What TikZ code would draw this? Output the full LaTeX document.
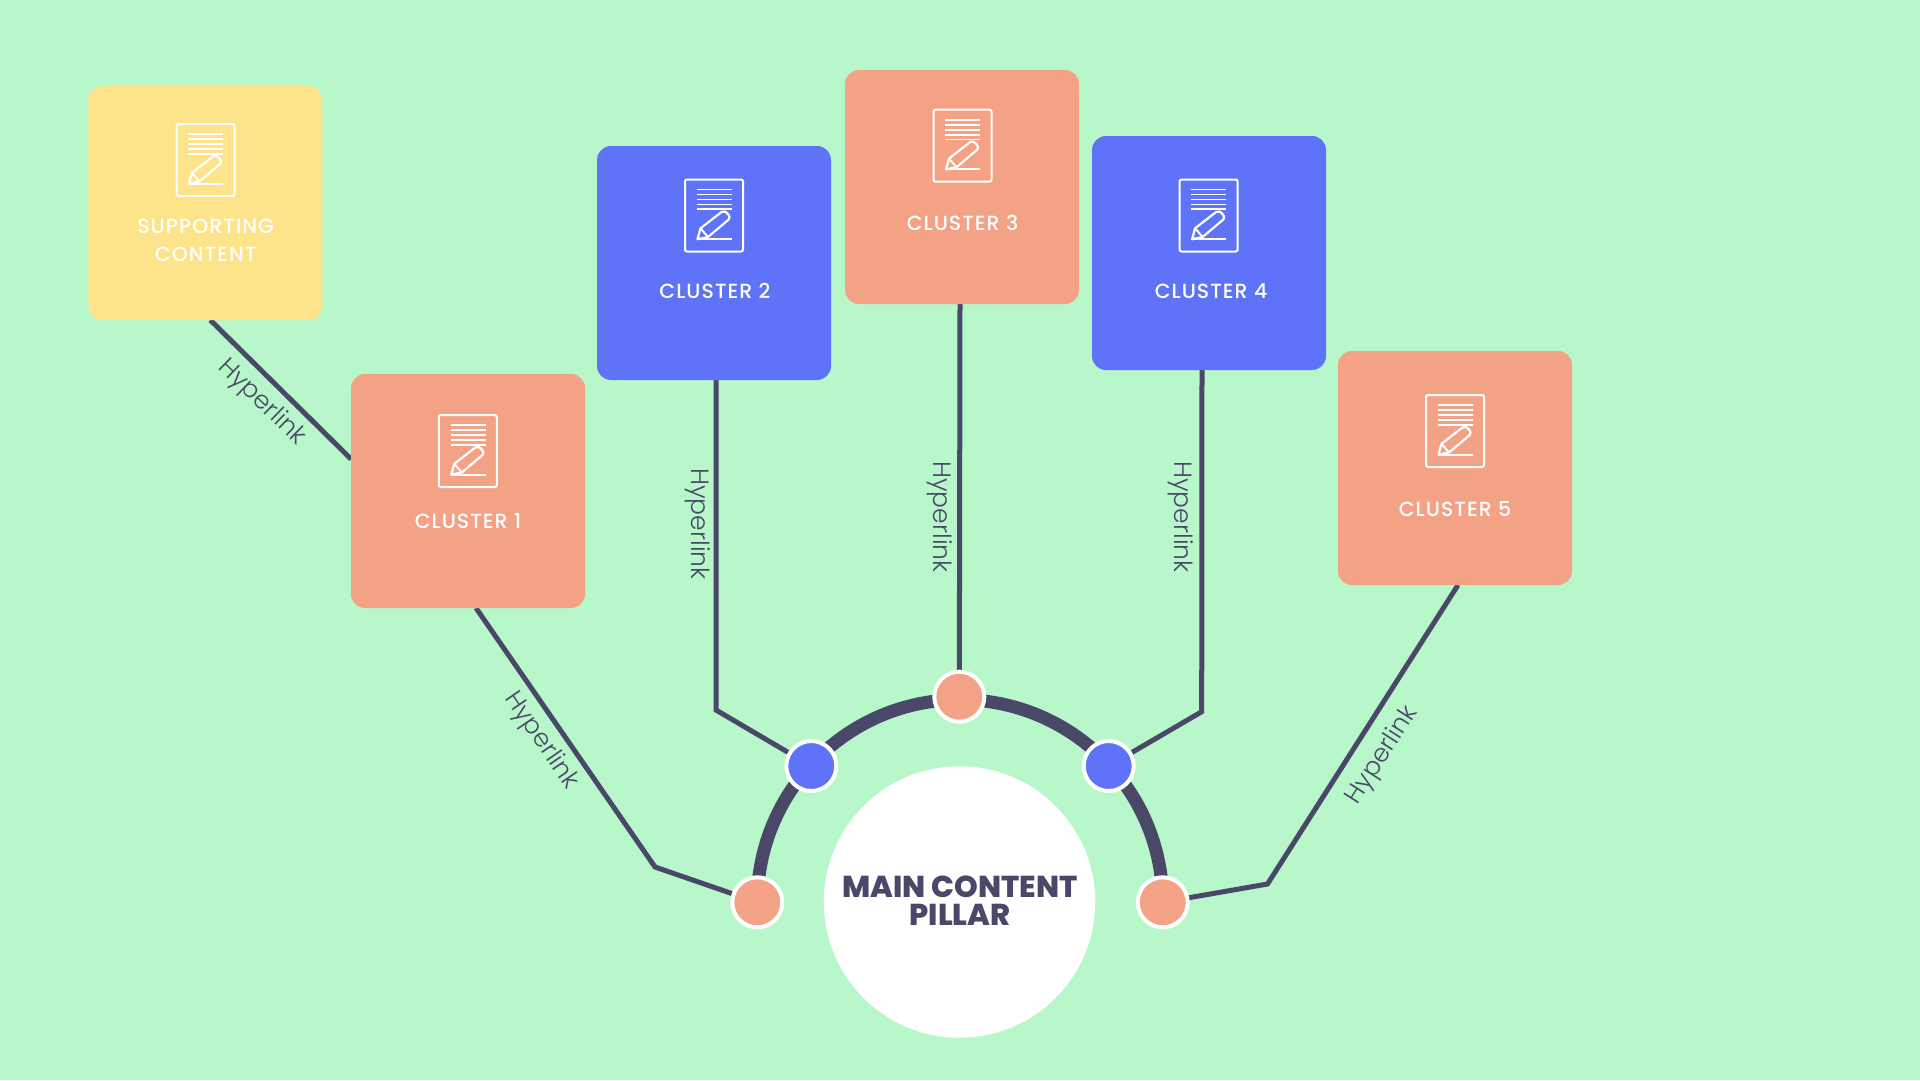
\documentclass[tikz,border=0pt]{standalone}
\usepackage{fontspec}
\setmainfont{Poppins}
\newfontfamily\lightface{Poppins Light}
\newfontfamily\medface[LetterSpace=5]{Poppins Medium}
\newfontfamily\heavyface{Poppins ExtraBold}
\usetikzlibrary{backgrounds,calc}
\definecolor{bgc}{RGB}{184,247,202}
\definecolor{ylw}{RGB}{253,228,139}
\definecolor{sal}{RGB}{243,162,134}
\definecolor{blu}{RGB}{95,115,248}
\definecolor{ink}{RGB}{74,72,104}
\tikzset{
  x=1pt,y=-1pt,
  card/.style={minimum width=234pt,minimum height=234pt,rounded corners=14pt,inner sep=0pt,outer sep=0pt},
  cardtext/.style={text=white,font=\medface\fontsize{20.5}{28}\selectfont,align=center,inner sep=0pt},
  link/.style={draw=ink,line width=5pt,line join=miter},
  hub/.style={circle,draw=white,line width=4pt,minimum size=50pt,inner sep=0pt,outer sep=0pt},
  linklabel/.style={text=ink,font=\lightface\fontsize{25}{25}\selectfont,inner sep=0pt},
  pics/docicon/.style={code={
    \draw[white,line width=2pt,rounded corners=2pt] (-29,-36) rectangle (29,36);
    \foreach \yy in {-26,-21,-16,-11,-6.3}{\draw[white,line width=1.7pt] (-17.3,\yy) -- (17.7,\yy);}
    \draw[white,line width=2pt] (-17,23.7) -- (17.7,23.7);
    \draw[white,line width=2.2pt,line join=round] (-16.5,23.7) -- (-13.5,12.8) -- (7.5,-3.5) .. controls (10,-5.5) and (12,-3.5) .. (14,-1.5) .. controls (16,0.5) and (16,2.5) .. (14.7,4) -- (-6,21.5) -- cycle;
    \draw[white,line width=2pt] (-13.5,12.8) -- (-6,21.5);
  }}
}
\begin{document}
\begin{tikzpicture}
\useasboundingbox (0,0) rectangle (1920,1080);
% cards
\node[card,fill=ylw] (sup) at (205.25,203) {};
\node[card,fill=sal] (c1) at (468,491) {};
\node[card,fill=blu] (c2) at (714,263) {};
\node[card,fill=sal] (c3) at (962,187) {};
\node[card,fill=blu] (c4) at (1209,253) {};
\node[card,fill=sal] (c5) at (1455,468) {};
% icons
\pic at (205.5,160) {docicon};
\pic at (467.8,451) {docicon};
\pic at (714,215.5) {docicon};
\pic at (962.5,145.7) {docicon};
\pic at (1208.6,215.5) {docicon};
\pic at (1455,431) {docicon};
% card texts
\node[cardtext] (tsup) at (205.7,240.8) {SUPPORTING\\CONTENT};
\node[cardtext] (t1) at (468,521.2) {CLUSTER 1};
\node[cardtext] (t2) at (715,291.2) {CLUSTER 2};
\node[cardtext] (t3) at (962.5,222.5) {CLUSTER 3};
\node[cardtext] (t4) at (1211,291.2) {CLUSTER 4};
\node[cardtext] (t5) at (1455,509.2) {CLUSTER 5};
% main
\node[circle,fill=white,minimum size=271.5pt,inner sep=0pt,outer sep=0pt] (main) at (959.5,902) {};
\node[text=ink,font=\heavyface\fontsize{30.2}{28}\selectfont,align=center,inner sep=0pt] (maint) at (960,901) {MAIN CONTENT\\PILLAR};
% hubs
\node[hub,fill=sal] (h1) at (757.3,902.3) {};
\node[hub,fill=blu] (h2) at (811.3,766) {};
\node[hub,fill=sal] (h3) at (959.3,696.7) {};
\node[hub,fill=blu] (h4) at (1108.7,766) {};
\node[hub,fill=sal] (h5) at (1162.7,902.3) {};
% corners
\coordinate (k1) at (655,867);
\coordinate (k2) at (716,710);
\coordinate (k4) at (1201.7,711.7);
\coordinate (k5) at (1267.5,884);
\begin{scope}[on background layer]
\fill[bgc] (0,0) rectangle (1920,1080);
\draw[ink,line width=13pt] (h1.center) arc[start angle=180,end angle=360,radius=202.7];
\path[link] ([xshift=5pt]sup.south) -- ([yshift=32pt]c1.west);
\path[link] ([xshift=8pt]c1.south) -- (k1) -- (h1);
\path[link] ([xshift=2pt]c2.south) -- (k2) -- (h2);
\path[link] ([xshift=-2pt]c3.south) -- (h3);
\path[link] ([xshift=-7pt]c4.south) -- (k4) -- (h4);
\path[link] ([xshift=3pt]c5.south) -- (k5) -- (h5);
\end{scope}
% labels
\node[linklabel,rotate=-44] (l0) at (261.5,402.5) {Hyperlink};
\node[linklabel,rotate=-55.5] (l1) at (541,741) {Hyperlink};
\node[linklabel,rotate=-90] (l2) at (698,524) {Hyperlink};
\node[linklabel,rotate=-90] (l3) at (940,517) {Hyperlink};
\node[linklabel,rotate=-90] (l4) at (1180.5,517) {Hyperlink};
\node[linklabel,rotate=57.4] (l5) at (1382.5,755.5) {Hyperlink};
\end{tikzpicture}
\end{document}
